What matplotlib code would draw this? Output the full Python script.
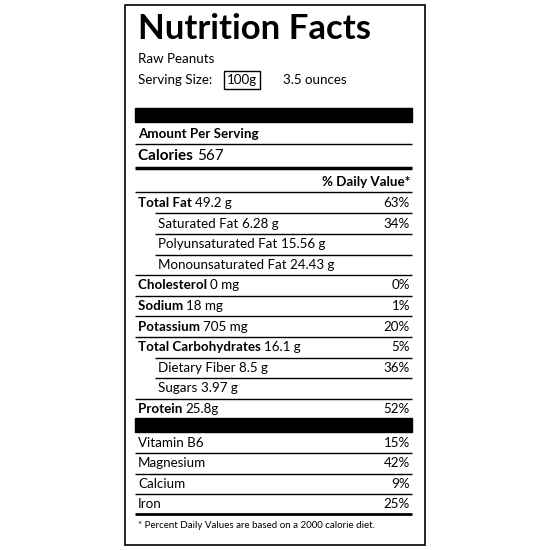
import matplotlib.pyplot as plt
from matplotlib.patches import Rectangle

plt.rcParams['font.family'] = ['Lato', 'DejaVu Sans']

food = "Raw Peanuts"
serving = "100g"
serving_alt = "3.5 ounces"
calories = 567

nutrients = ["Total Fat", "Saturated Fat", "Polyunsaturated Fat", "Monounsaturated Fat",
             "Cholesterol", "Sodium", "Potassium", "Total Carbohydrates",
             "Dietary Fiber", "Sugars", "Protein"]
amounts = ["49.2 g", "6.28 g", "15.56 g", "24.43 g", "0 mg", "18 mg", "705 mg",
           "16.1 g", "8.5 g", "3.97 g", "25.8g"]
daily = ["63%", "34%", "", "", "0%", "1%", "20%", "5%", "36%", "", "52%"]
sub_items = ["Saturated Fat", "Polyunsaturated Fat", "Monounsaturated Fat",
             "Dietary Fiber", "Sugars"]

vitamins = ["Vitamin B6", "Magnesium", "Calcium", "Iron"]
vit_daily = ["15%", "42%", "9%", "25%"]

footnote = "* Percent Daily Values are based on a 2000 calorie diet."

fig = plt.figure(figsize=(5.5, 5.5), dpi=100)
ax = fig.add_axes([0, 0, 1, 1])
ax.set_xlim(0, 550)
ax.set_ylim(550, 0)
ax.axis('off')

L, R = 135, 412
TX, IX, RX = 138, 158, 410
FS = 9.6

def hline(y, lw=1.0, x0=L):
    ax.plot([x0, R], [y, y], color='black', lw=lw, solid_capstyle='butt')

ax.add_patch(Rectangle((125, 5), 300, 540, fill=False, lw=1.2, ec='black'))
ax.text(TX, 29, "Nutrition Facts", fontsize=25, weight='bold', va='center')
ax.text(TX, 59, food, fontsize=FS, va='center')
ax.text(TX, 80, "Serving Size:", fontsize=FS, va='center')
ax.text(242, 80, serving, fontsize=FS, va='center', ha='center',
        bbox=dict(boxstyle='square,pad=0.25', fc='white', ec='black', lw=1))
ax.text(283, 80, serving_alt, fontsize=FS, va='center')

ax.add_patch(Rectangle((L, 108), R - L, 14, color='black'))
ax.text(TX, 134, "Amount Per Serving", fontsize=FS, weight='bold', va='center')
hline(144)
t = ax.text(TX, 156, "Calories ", fontsize=11, weight='bold', va='center')
ax.annotate(str(calories), xycoords=t, xy=(1, 0.5), va='center', fontsize=11)
hline(168, lw=2.5)
ax.text(RX, 182, "% Daily Value*", fontsize=FS, weight='bold', va='center', ha='right')
hline(192)

y = 203
for i, (n, a, d) in enumerate(zip(nutrients, amounts, daily)):
    sub = n in sub_items
    t = ax.text(IX if sub else TX, y, n + " ", fontsize=FS, va='center',
                weight='normal' if sub else 'bold')
    ax.annotate(a, xycoords=t, xy=(1, 0.5), va='center', fontsize=FS)
    if d:
        ax.text(RX, y, d, fontsize=FS, va='center', ha='right')
    if i < len(nutrients) - 1:
        nxt = nutrients[i + 1] in sub_items
        hline(y + 10.3, x0=155 if nxt else L)
    y += 20.6

ax.add_patch(Rectangle((L, 418), R - L, 14, color='black'))
y = 443
for i, (v, d) in enumerate(zip(vitamins, vit_daily)):
    ax.text(TX, y, v, fontsize=FS, va='center')
    ax.text(RX, y, d, fontsize=FS, va='center', ha='right')
    hline(y + 10.3, lw=1.0 if i < len(vitamins) - 1 else 2.0)
    y += 20.4
ax.text(TX, 525, footnote, fontsize=7, va='center')

fig.savefig("out.png", dpi=100)
